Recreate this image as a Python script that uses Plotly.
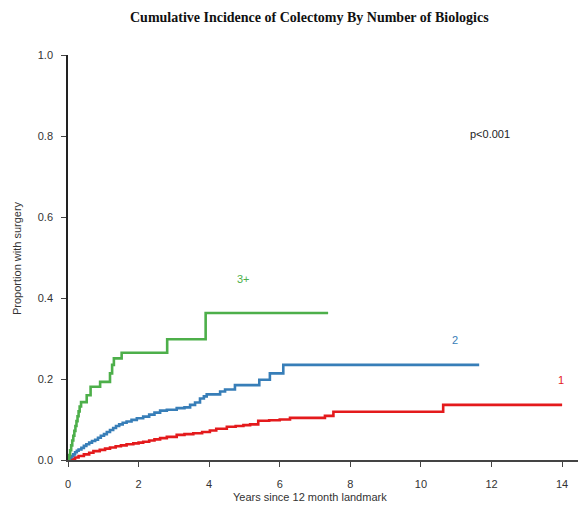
import plotly.graph_objects as go

# Group "3+" biologics
t_green = [0, 0.03, 0.06, 0.09, 0.12, 0.15, 0.18, 0.21, 0.24, 0.27, 0.30, 0.33, 0.37,
           0.53, 0.64, 0.91, 1.19, 1.25, 1.30, 1.52, 2.81, 3.90, 7.37]
y_green = [0, 0.012, 0.024, 0.036, 0.048, 0.060, 0.072, 0.084, 0.096, 0.108, 0.120, 0.132, 0.143,
           0.160, 0.181, 0.193, 0.214, 0.235, 0.251, 0.265, 0.298, 0.363, 0.363]

# Group "2" biologics
t_blue = [0, 0.05, 0.10, 0.15, 0.20, 0.25, 0.30, 0.38, 0.45, 0.52, 0.60, 0.68, 0.77, 0.85,
          0.93, 1.02, 1.10, 1.19, 1.28, 1.36, 1.45, 1.55, 1.66, 1.80, 1.95, 2.13, 2.30, 2.45,
          2.61, 2.80, 3.08, 3.30, 3.46, 3.60, 3.74, 3.85, 3.93, 4.31, 4.45, 4.73, 5.42, 5.72,
          6.10, 11.65]
y_blue = [0, 0.006, 0.010, 0.014, 0.019, 0.023, 0.026, 0.030, 0.035, 0.039, 0.043, 0.047, 0.050,
          0.055, 0.060, 0.064, 0.069, 0.074, 0.079, 0.084, 0.088, 0.092, 0.095, 0.099, 0.103,
          0.107, 0.112, 0.117, 0.122, 0.124, 0.128, 0.130, 0.136, 0.142, 0.152, 0.157, 0.162,
          0.169, 0.174, 0.185, 0.198, 0.214, 0.235, 0.235]

# Group "1" biologic
t_red = [0, 0.10, 0.20, 0.30, 0.45, 0.60, 0.72, 0.90, 1.05, 1.19, 1.35, 1.50, 1.66, 1.85, 2.00,
         2.13, 2.30, 2.45, 2.61, 2.80, 3.08, 3.30, 3.55, 3.80, 4.02, 4.20, 4.50, 4.75, 4.97,
         5.16, 5.39, 5.70, 6.00, 6.29, 7.28, 7.52, 10.63, 14.0]
y_red = [0, 0.003, 0.006, 0.010, 0.014, 0.018, 0.022, 0.025, 0.028, 0.031, 0.034, 0.036, 0.039,
         0.041, 0.043, 0.045, 0.048, 0.051, 0.054, 0.057, 0.062, 0.064, 0.066, 0.069, 0.073,
         0.077, 0.082, 0.084, 0.086, 0.088, 0.097, 0.098, 0.100, 0.104, 0.109, 0.119, 0.136, 0.136]

x_ticks = [0, 2, 4, 6, 8, 10, 12, 14]
y_ticks = [0.0, 0.2, 0.4, 0.6, 0.8, 1.0]

RED = "#e41a1c"
BLUE = "#377eb8"
GREEN = "#4daf4a"

fig = go.Figure()
for t, y, c, name in [(t_red, y_red, RED, "1"), (t_blue, y_blue, BLUE, "2"), (t_green, y_green, GREEN, "3+")]:
    fig.add_trace(go.Scatter(x=t, y=y, mode="lines", line=dict(color=c, width=2.6, shape="hv"),
                             name=name, showlegend=False, hoverinfo="skip"))

font_sans = "Liberation Sans, Arial, sans-serif"
fig.update_layout(
    width=578, height=509,
    margin=dict(l=68, r=0, t=55, b=49),
    paper_bgcolor="white", plot_bgcolor="white",
    font=dict(family=font_sans, size=11, color="#333333"),
    xaxis=dict(range=[0, 14.45], tickvals=x_ticks, ticks="outside", ticklen=5, tickwidth=1.2,
               tickcolor="#444", showline=True, linecolor="#444", linewidth=1.5,
               showgrid=False, zeroline=False, ticklabelstandoff=8,
               tickfont=dict(size=11, color="#333")),
    yaxis=dict(range=[0, 1.0], tickvals=y_ticks, tickformat=".1f", ticks="outside", ticklen=5,
               tickwidth=1.2, tickcolor="#444", showline=True, linecolor="#222", linewidth=1.5,
               showgrid=False, zeroline=False, ticklabelstandoff=6,
               tickfont=dict(size=11, color="#333")),
    annotations=[
        dict(text="<b>Cumulative Incidence of Colectomy By Number of Biologics</b>",
             xref="paper", yref="paper", x=(309 - 68) / 510, y=(460 - 18) / 405,
             xanchor="center", yanchor="middle", showarrow=False,
             font=dict(family="Liberation Serif, Times New Roman, serif", size=14, color="#111")),
        dict(text="Years since 12 month landmark", xref="paper", yref="paper",
             x=(310 - 68) / 510, y=(460 - 497) / 405, xanchor="center", yanchor="middle",
             showarrow=False, font=dict(size=11, color="#333")),
        dict(text="Proportion with surgery", xref="paper", yref="paper",
             x=(17 - 68) / 510, y=(460 - 258) / 405, xanchor="center", yanchor="middle",
             textangle=-90, showarrow=False, font=dict(size=11, color="#333")),
        dict(text="p<0.001", x=11.95, y=0.805, showarrow=False, font=dict(size=11, color="#222")),
        dict(text="3+", x=4.96, y=0.447, showarrow=False, font=dict(size=11, color=GREEN)),
        dict(text="2", x=10.96, y=0.296, showarrow=False, font=dict(size=11, color=BLUE)),
        dict(text="1", x=13.97, y=0.198, showarrow=False, font=dict(size=11, color=RED)),
    ],
)

fig.write_html("out.html")
